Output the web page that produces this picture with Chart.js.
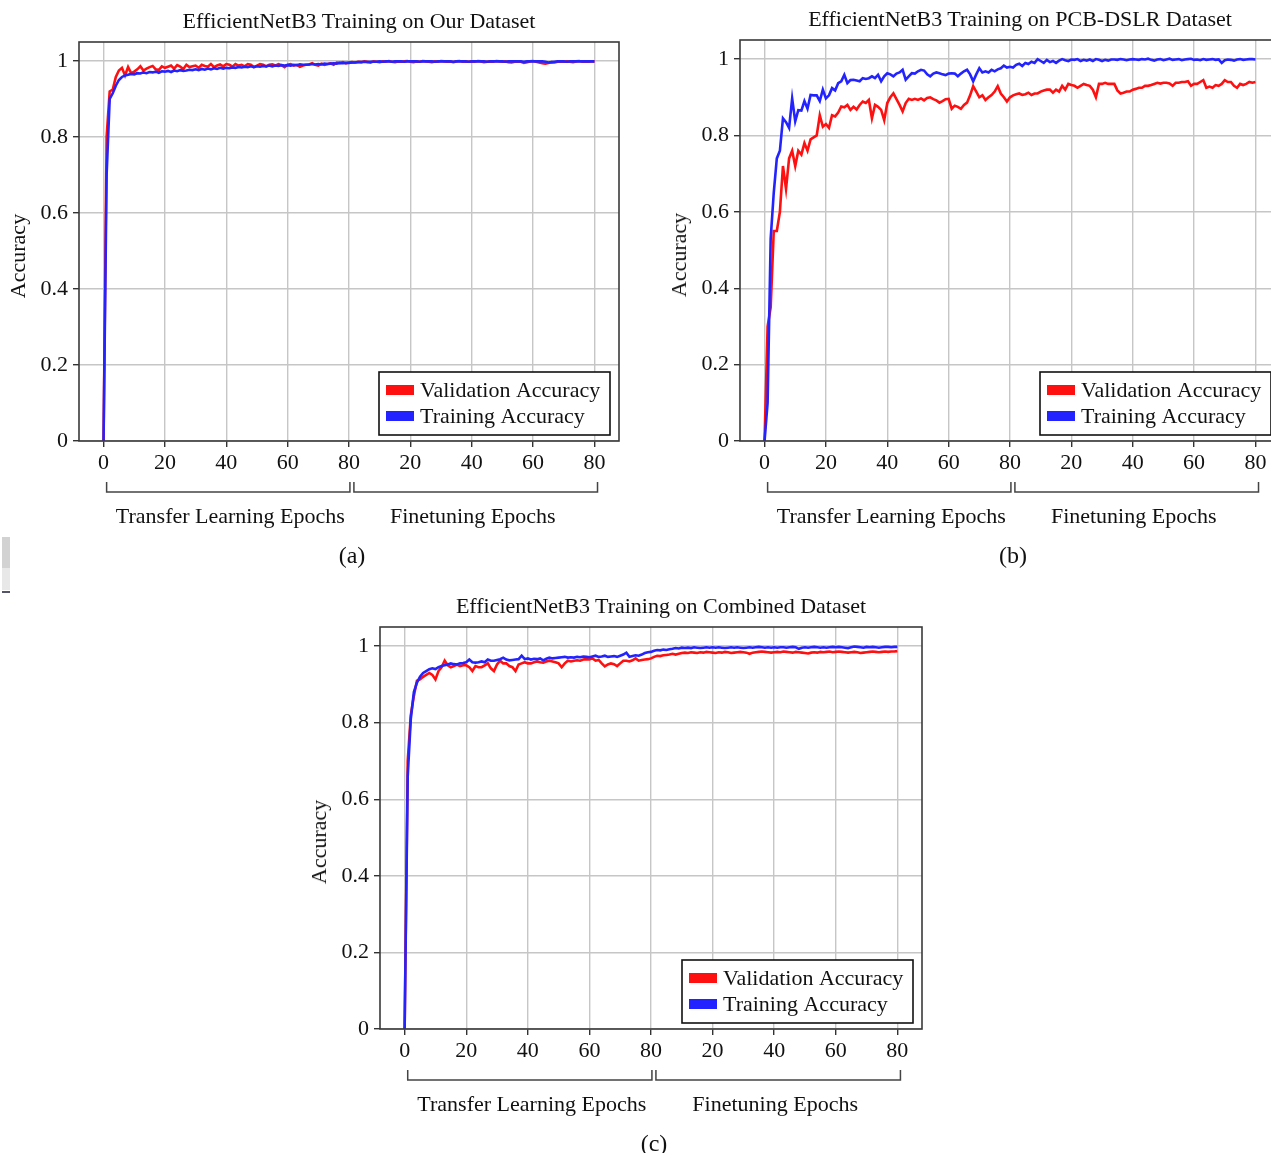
<!DOCTYPE html>
<html>
<head>
<meta charset="utf-8">
<script src="https://cdn.jsdelivr.net/npm/chart.js@4.4.0/dist/chart.umd.min.js"></script>
<style>
  html, body { margin: 0; padding: 0; background: #fff; }
  body { width: 1271px; height: 1153px; overflow: hidden; position: relative; }
  canvas { position: absolute; }
  .txt { position: absolute; font-family: "Liberation Serif", serif; color: #111; white-space: nowrap; line-height: 1; transform: translate(-50%, -50%); }
  .rot { transform: translate(-50%, -50%) rotate(-90deg); }
  .mark { position: absolute; }
</style>
</head>
<body>
<canvas id="chartA"></canvas>
<canvas id="chartB"></canvas>
<canvas id="chartC"></canvas>
<div class="mark" style="left:2px;top:537px;width:8px;height:31px;background:#d2d2d2"></div>
<div class="mark" style="left:2px;top:568px;width:8px;height:22px;background:#e8e8e8"></div>
<div class="mark" style="left:2px;top:591px;width:8px;height:2px;background:#55556a"></div>
<script>
// axis ticks
const yTicks = [0, 0.2, 0.4, 0.6, 0.8, 1];
const yTickLabels = ['0', '0.2', '0.4', '0.6', '0.8', '1'];
const xTicks = [0, 20, 40, 60, 80, 100, 120, 140, 160];
const xTickLabels = ['0', '20', '40', '60', '80', '20', '40', '60', '80'];
const seriesNames = ['Validation Accuracy', 'Training Accuracy'];
const groupLabels = ['Transfer Learning Epochs', 'Finetuning Epochs'];

// (a) Our Dataset, epochs 0-80 transfer, 81-160 finetune
const valA = [
  0, 0.80, 0.92, 0.925, 0.958, 0.975, 0.982, 0.962, 0.984, 0.968,
  0.972, 0.978, 0.986, 0.975, 0.98, 0.984, 0.987, 0.978, 0.976, 0.986,
  0.982, 0.985, 0.988, 0.98, 0.989, 0.985, 0.979, 0.99, 0.984, 0.986,
  0.988, 0.982, 0.99, 0.987, 0.985, 0.992, 0.984, 0.988, 0.991, 0.986,
  0.992, 0.99, 0.985, 0.992, 0.988, 0.99, 0.986, 0.992, 0.99, 0.984,
  0.988, 0.992, 0.99, 0.986, 0.99, 0.991, 0.988, 0.992, 0.989, 0.984,
  0.99, 0.992, 0.988, 0.99, 0.985, 0.988, 0.99, 0.991, 0.994, 0.99,
  0.988, 0.993, 0.99, 0.992, 0.994, 0.99, 0.996, 0.995, 0.997, 0.994,
  0.996, 0.997, 0.996, 0.998, 0.997, 0.999, 0.998, 0.996, 0.999, 0.998,
  0.997, 0.999, 0.998, 1.0, 0.998, 0.997, 0.999, 0.998, 0.999, 1.0,
  0.998, 0.997, 0.999, 0.998, 1.0, 0.999, 0.998, 0.997, 0.999, 0.998,
  1.0, 0.999, 0.998, 0.999, 0.997, 0.999, 1.0, 0.998, 0.999, 0.998,
  0.999, 0.998, 1.0, 0.999, 0.997, 0.998, 0.999, 0.998, 1.0, 0.999,
  0.998, 0.999, 0.997, 0.996, 0.998, 0.999, 0.998, 0.995, 0.997, 0.999,
  1.0, 0.998, 0.996, 0.994, 0.993, 0.995, 0.997, 0.996, 0.998, 0.999,
  0.998, 0.999, 0.998, 0.997, 0.999, 1.0, 0.998, 0.999, 0.998, 0.999,
  0.999
];
const trainA = [
  0, 0.70, 0.90, 0.915, 0.935, 0.95, 0.958, 0.962, 0.964, 0.966,
  0.965, 0.968, 0.967, 0.97, 0.968, 0.971, 0.97, 0.972, 0.969, 0.973,
  0.972, 0.974, 0.971, 0.975, 0.973, 0.976, 0.974, 0.975, 0.977, 0.976,
  0.978, 0.976, 0.979, 0.977, 0.98, 0.978, 0.981, 0.979, 0.982, 0.98,
  0.982, 0.981, 0.983, 0.982, 0.984, 0.983, 0.985, 0.984, 0.986, 0.984,
  0.986, 0.985, 0.987, 0.986, 0.988, 0.986, 0.988, 0.987, 0.989, 0.988,
  0.989, 0.988, 0.99, 0.989, 0.991, 0.99, 0.99, 0.991, 0.992, 0.991,
  0.992, 0.991, 0.993, 0.992, 0.993, 0.994, 0.993, 0.995, 0.994, 0.995,
  0.995, 0.996, 0.996, 0.997, 0.997, 0.998, 0.997, 0.998, 0.998, 0.998,
  0.999, 0.998, 0.999, 0.999, 0.998, 0.999, 0.999, 0.999, 0.998, 0.999,
  0.999, 0.999, 0.999, 0.998, 0.999, 0.999, 0.999, 0.999, 0.998, 0.999,
  0.999, 0.999, 0.999, 0.999, 0.998, 0.999, 0.999, 0.999, 0.999, 0.998,
  0.999, 0.999, 0.999, 0.999, 0.999, 0.998, 0.999, 0.999, 0.999, 0.999,
  0.999, 0.998, 0.999, 0.999, 0.999, 0.999, 0.999, 0.998, 0.999, 0.999,
  0.999, 0.999, 0.999, 0.999, 0.998, 0.996, 0.997, 0.998, 0.999, 0.999,
  0.999, 0.998, 0.999, 0.999, 0.999, 0.999, 0.999, 0.999, 0.999, 0.999,
  0.999
];

// (b) PCB-DSLR Dataset
const valB = [
  0, 0.30, 0.35, 0.55, 0.55, 0.60, 0.72, 0.66, 0.74, 0.76,
  0.72, 0.76, 0.75, 0.78, 0.76, 0.79, 0.795, 0.80, 0.853, 0.823,
  0.83, 0.82, 0.853, 0.85, 0.86, 0.876, 0.874, 0.88, 0.867, 0.875,
  0.868, 0.88, 0.889, 0.885, 0.893, 0.845, 0.88, 0.875, 0.867, 0.84,
  0.885, 0.9, 0.91, 0.895, 0.88, 0.863, 0.885, 0.896, 0.893, 0.896,
  0.893, 0.897, 0.892, 0.898, 0.9, 0.895, 0.892, 0.886, 0.89, 0.895,
  0.896, 0.87, 0.878, 0.875, 0.87, 0.88, 0.886, 0.905, 0.929, 0.915,
  0.9, 0.905, 0.893, 0.9, 0.906, 0.915, 0.929, 0.91, 0.9, 0.889,
  0.9, 0.905, 0.908, 0.91, 0.906, 0.908, 0.912, 0.906, 0.91, 0.91,
  0.915, 0.918, 0.92, 0.92, 0.912, 0.92, 0.915, 0.93, 0.92, 0.935,
  0.932, 0.93, 0.925, 0.93, 0.935, 0.932, 0.93, 0.92, 0.9, 0.935,
  0.935, 0.938, 0.935, 0.935, 0.935, 0.918, 0.91, 0.912, 0.915, 0.915,
  0.92, 0.922, 0.925, 0.925, 0.93, 0.93, 0.932, 0.935, 0.938, 0.936,
  0.938, 0.938, 0.936, 0.93, 0.938, 0.938, 0.94, 0.94, 0.942, 0.93,
  0.935, 0.935, 0.94, 0.945, 0.925, 0.928, 0.925, 0.932, 0.93, 0.935,
  0.945, 0.94, 0.94, 0.93, 0.925, 0.935, 0.932, 0.935, 0.94, 0.938,
  0.94
];
const trainB = [
  0, 0.10, 0.53, 0.65, 0.74, 0.76, 0.845, 0.835, 0.82, 0.897,
  0.837, 0.866, 0.865, 0.89, 0.87, 0.906, 0.905, 0.905, 0.89, 0.92,
  0.897, 0.905, 0.924, 0.918, 0.937, 0.942, 0.959, 0.937, 0.945, 0.946,
  0.944, 0.942, 0.95, 0.948, 0.95, 0.955, 0.95, 0.959, 0.942, 0.955,
  0.963, 0.96, 0.955, 0.962, 0.965, 0.972, 0.946, 0.955, 0.963, 0.962,
  0.968, 0.972, 0.97, 0.96, 0.955, 0.962, 0.965, 0.963, 0.96, 0.958,
  0.962, 0.963, 0.962, 0.955, 0.962, 0.968, 0.972, 0.96, 0.942, 0.96,
  0.976, 0.965, 0.968, 0.965, 0.972, 0.968, 0.973, 0.976, 0.983, 0.978,
  0.98, 0.978, 0.985, 0.988, 0.982, 0.99, 0.987, 0.993, 0.99, 1.0,
  0.995, 0.99, 0.998, 0.992, 0.995, 0.99, 0.996, 1.0, 0.997, 0.995,
  0.999, 0.998, 1.0, 0.995, 0.998, 0.996, 0.999, 0.995, 1.0, 0.998,
  0.995, 0.998, 0.996, 0.999, 0.999, 0.998, 1.0, 0.999, 0.997, 0.999,
  1.0, 0.999, 0.998, 1.0, 0.999, 1.001, 0.998, 0.996, 0.999, 1.0,
  0.997, 0.999, 1.001, 0.998, 0.999, 1.0, 0.997, 0.999, 1.0, 1.001,
  0.998, 0.999, 0.997, 1.0, 0.998, 0.999, 1.0, 0.998, 0.999, 0.99,
  0.997, 0.999, 0.998, 0.996, 0.999, 1.0, 0.998, 0.999, 1.0, 1.0,
  0.999
];

// (c) Combined Dataset
const valC = [
  0, 0.70, 0.82, 0.87, 0.91, 0.913, 0.92, 0.925, 0.93, 0.925,
  0.913, 0.935, 0.945, 0.962, 0.95, 0.945, 0.948, 0.952, 0.948, 0.95,
  0.95, 0.945, 0.935, 0.948, 0.945, 0.945, 0.95, 0.955, 0.942, 0.935,
  0.952, 0.962, 0.955, 0.955, 0.948, 0.945, 0.935, 0.952, 0.955, 0.958,
  0.955, 0.955, 0.958, 0.96, 0.958, 0.957, 0.96, 0.962, 0.96, 0.958,
  0.955, 0.945, 0.955, 0.962, 0.96, 0.962, 0.963, 0.962, 0.965, 0.966,
  0.965, 0.968, 0.962, 0.964, 0.955, 0.947, 0.952, 0.955, 0.953, 0.948,
  0.955, 0.962, 0.962, 0.96, 0.963, 0.968, 0.962, 0.964, 0.965, 0.966,
  0.968, 0.972, 0.975, 0.974, 0.976, 0.977, 0.978, 0.98, 0.978, 0.98,
  0.982, 0.983, 0.982, 0.984, 0.983, 0.982, 0.984, 0.983, 0.985, 0.984,
  0.983, 0.982, 0.984, 0.983, 0.985, 0.984, 0.982, 0.983, 0.984, 0.985,
  0.984, 0.983, 0.98, 0.983, 0.984, 0.985, 0.986, 0.985, 0.984, 0.983,
  0.984, 0.985, 0.984, 0.986, 0.985, 0.984, 0.983, 0.985, 0.984, 0.983,
  0.982, 0.981, 0.983, 0.984, 0.983, 0.985, 0.984, 0.985, 0.986, 0.984,
  0.985, 0.986, 0.985, 0.984, 0.983, 0.984, 0.985, 0.984, 0.982, 0.983,
  0.984, 0.985, 0.986, 0.985, 0.984, 0.985, 0.986, 0.985, 0.986, 0.986,
  0.987
];
const trainC = [
  0, 0.66, 0.81, 0.88, 0.905, 0.92, 0.93, 0.935, 0.94, 0.942,
  0.94, 0.945, 0.948, 0.95, 0.952, 0.955, 0.953, 0.952, 0.955, 0.956,
  0.958, 0.965, 0.958, 0.957, 0.958, 0.96, 0.958, 0.965, 0.962, 0.962,
  0.964, 0.966, 0.97, 0.965, 0.963, 0.964, 0.965, 0.966, 0.975, 0.966,
  0.968, 0.965, 0.967, 0.966, 0.968, 0.963, 0.967, 0.97, 0.968, 0.969,
  0.97, 0.971, 0.972, 0.97, 0.971, 0.97, 0.972, 0.971, 0.973, 0.972,
  0.971, 0.973, 0.975, 0.972, 0.973, 0.975, 0.972, 0.973, 0.974, 0.972,
  0.975, 0.978, 0.983, 0.972, 0.974, 0.976, 0.975, 0.978, 0.982, 0.984,
  0.985, 0.988, 0.99, 0.989, 0.991, 0.99, 0.992, 0.993, 0.995, 0.994,
  0.996, 0.995, 0.996, 0.995, 0.997, 0.996, 0.995, 0.996, 0.997, 0.996,
  0.997, 0.996, 0.997, 0.996, 0.995, 0.996, 0.997, 0.996, 0.997, 0.996,
  0.995, 0.996, 0.997, 0.996, 0.997, 0.998, 0.997, 0.996, 0.997, 0.996,
  0.997, 0.996, 0.997, 0.997, 0.996, 0.997, 0.998, 0.997, 0.993, 0.996,
  0.997, 0.996, 0.997, 0.998, 0.997, 0.996, 0.997, 0.996, 0.997, 0.998,
  0.997, 0.998, 0.997, 0.996, 0.995, 0.997, 0.999, 0.998, 0.997, 0.996,
  0.998, 0.997, 0.998, 0.997, 0.996, 0.997, 0.998, 0.998, 0.997, 0.998,
  0.998
];

const FONT = '"Liberation Serif", "Times New Roman", serif';
const RED = '#ff1010';
const BLUE = '#2323ff';

function toPoints(arr) {
  return arr.map((v, i) => ({ x: i, y: v }));
}

function addText(str, x, y, size, rotate) {
  const d = document.createElement('div');
  d.className = rotate ? 'txt rot' : 'txt';
  d.textContent = str;
  d.style.left = x + 'px';
  d.style.top = y + 'px';
  d.style.fontSize = size + 'px';
  document.body.appendChild(d);
}

// frame, legend and brackets under the x axis
const extrasPlugin = {
  id: 'extras',
  afterDraw(chart) {
    const { ctx, chartArea: a } = chart;
    const xs = chart.scales.x;
    ctx.save();
    ctx.strokeStyle = '#3a3a3a';
    ctx.lineWidth = 1.6;
    ctx.strokeRect(a.left, a.top, a.right - a.left, a.bottom - a.top);

    // legend box
    const bw = 231, bh = 63;
    const bx = a.right - 9 - bw, by = a.bottom - 6 - bh;
    ctx.fillStyle = '#fff';
    ctx.fillRect(bx, by, bw, bh);
    ctx.strokeStyle = '#111';
    ctx.lineWidth = 1.6;
    ctx.strokeRect(bx, by, bw, bh);
    const colors = [RED, BLUE];
    ctx.font = '22px ' + FONT;
    ctx.textBaseline = 'middle';
    ctx.textAlign = 'left';
    seriesNames.forEach((name, i) => {
      const cy = by + 18 + i * 26;
      ctx.fillStyle = colors[i];
      ctx.fillRect(bx + 7, cy - 5, 28, 10);
      ctx.fillStyle = '#111';
      ctx.fillText(name, bx + 41, cy + 1);
    });

    // brackets
    ctx.strokeStyle = '#444';
    ctx.lineWidth = 1.5;
    const y0 = a.bottom + 41, y1 = a.bottom + 51;
    [[1, 80.3], [81.6, 161]].forEach(([s, e]) => {
      const p0 = xs.getPixelForValue(s), p1 = xs.getPixelForValue(e);
      ctx.beginPath();
      ctx.moveTo(p0, y0); ctx.lineTo(p0, y1); ctx.lineTo(p1, y1); ctx.lineTo(p1, y0);
      ctx.stroke();
    });
    ctx.restore();
  }
};

function makeChart(id, box, val, train, title, caption) {
  const cv = document.getElementById(id);
  cv.width = box.w + 100;
  cv.height = box.h + 42 + 149;
  cv.style.left = (box.left - 79) + 'px';
  cv.style.top = (box.top - 42) + 'px';

  const chart = new Chart(cv, {
    type: 'line',
    data: {
      datasets: [
        { label: seriesNames[0], data: toPoints(val), borderColor: RED, borderWidth: 2.6, pointRadius: 0, tension: 0, order: 1 },
        { label: seriesNames[1], data: toPoints(train), borderColor: BLUE, borderWidth: 2.6, pointRadius: 0, tension: 0, order: 0 }
      ]
    },
    options: {
      responsive: false,
      animation: false,
      layout: { padding: { top: 42, right: 21, left: 0, bottom: 0 } },
      plugins: { legend: { display: false }, tooltip: { enabled: false } },
      scales: {
        x: {
          type: 'linear', min: -8, max: 168,
          afterBuildTicks: s => { s.ticks = xTicks.map(v => ({ value: v })); },
          afterFit: s => { s.height = 149; },
          ticks: {
            autoSkip: false, maxRotation: 0, padding: 3, color: '#111',
            font: { family: FONT, size: 22 },
            callback: (v) => xTickLabels[xTicks.indexOf(v)]
          },
          grid: { color: '#c6c6c6', lineWidth: 1.4, tickLength: 6, tickColor: '#333' },
          border: { display: false }
        },
        y: {
          min: 0, max: 1.05,
          afterBuildTicks: s => { s.ticks = yTicks.map(v => ({ value: v })); },
          afterFit: s => { s.width = 79; },
          ticks: {
            padding: 5, color: '#111',
            font: { family: FONT, size: 22 },
            callback: (v) => yTickLabels[yTicks.indexOf(v)]
          },
          grid: { color: '#c6c6c6', lineWidth: 1.4, tickLength: 6, tickColor: '#333' },
          border: { display: false }
        }
      }
    },
    plugins: [extrasPlugin]
  });

  const xs = chart.scales.x;
  const offX = box.left - 79;
  const bottom = box.top + box.h;
  addText(title, box.left + box.w / 2 + 10, box.top - 21, 22);
  addText('Accuracy', box.left - 61, box.top + box.h / 2 + 14, 22, true);
  addText(groupLabels[0], offX + (xs.getPixelForValue(1) + xs.getPixelForValue(80.3)) / 2 + 2, bottom + 75, 22);
  addText(groupLabels[1], offX + (xs.getPixelForValue(81.6) + xs.getPixelForValue(161)) / 2 - 3, bottom + 75, 22);
  addText(caption, box.left + box.w / 2 + 3, bottom + 114, 24);
  return chart;
}

makeChart('chartA', { left: 79, top: 42, w: 540, h: 399 }, valA, trainA,
  'EfficientNetB3 Training on Our Dataset', '(a)');
makeChart('chartB', { left: 740, top: 40, w: 540, h: 401 }, valB, trainB,
  'EfficientNetB3 Training on PCB-DSLR Dataset', '(b)');
makeChart('chartC', { left: 380, top: 627, w: 542, h: 402 }, valC, trainC,
  'EfficientNetB3 Training on Combined Dataset', '(c)');
</script>
</body>
</html>
